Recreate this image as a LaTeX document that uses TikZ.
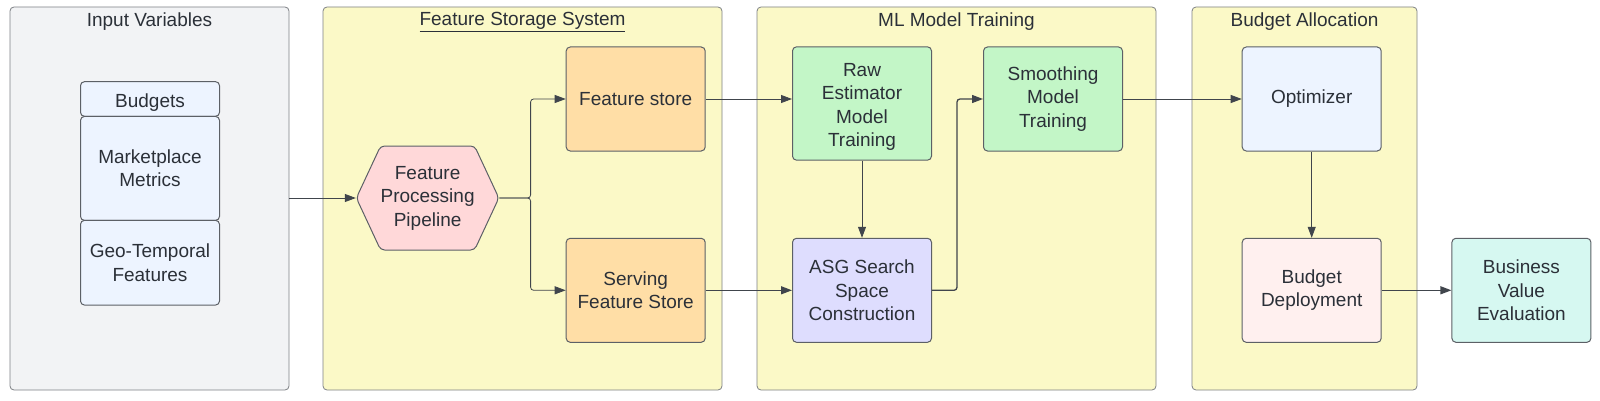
\documentclass[tikz,border=0pt]{standalone}
\usepackage{fontspec}
\setmainfont{Liberation Sans}
\usetikzlibrary{arrows.meta,shapes.symbols}

\definecolor{txt}{HTML}{2B3038}
\definecolor{edge}{HTML}{5C6066}
\definecolor{greyfill}{HTML}{F2F3F5}
\definecolor{yellowfill}{HTML}{FBF9C7}
\definecolor{bluefill}{HTML}{EDF4FF}
\definecolor{pinkfill}{HTML}{FFD8D9}
\definecolor{orangefill}{HTML}{FFDEA6}
\definecolor{greenfill}{HTML}{C3F6C7}
\definecolor{purplefill}{HTML}{DEDDFE}
\definecolor{rosefill}{HTML}{FFF0EF}
\definecolor{tealfill}{HTML}{D6F8F1}

\tikzset{
  panel/.style={draw=edge!80, line width=0.8pt, rounded corners=4pt, minimum width=#1, minimum height=383pt, inner sep=0pt},
  box/.style={draw=edge, line width=1pt, rounded corners=4pt, text=txt, align=center, minimum width=139pt, minimum height=104pt, inner sep=0pt},
  title/.style={text=txt},
  arr/.style={draw=txt!90, line width=0.8pt, -{Triangle[length=11pt,width=8pt]}},
  arrb/.style={arr, line width=1.3pt}
}

\begin{document}
\begin{tikzpicture}[x=1pt,y=-1pt,font=\fontsize{19}{23.5}\selectfont]
  \useasboundingbox (0,0) rectangle (1600,401);
  % panels
  \node[panel=279pt, fill=greyfill] (inp) at (149.5,198.5) {};
  \node[panel=399pt, fill=yellowfill] (fss) at (522.5,198.5) {};
  \node[panel=399pt, fill=yellowfill] (mlt) at (956.5,198.5) {};
  \node[panel=225pt, fill=yellowfill] (bal) at (1304.5,198.5) {};
  \node[title] (tinp) at (149.5,22) {Input Variables};
  \node[title] (tfss) at (522.5,22) {\underline{Feature Storage System}};
  \node[title] (tmlt) at (956.5,22) {ML Model Training};
  \node[title] (tbal) at (1304.5,22) {Budget Allocation};

  % inputs
  \node[box, fill=bluefill, minimum height=34.7pt] (bud) at (150,99) {\raisebox{-4pt}[\height][\depth]{Budgets}};
  \node[box, fill=bluefill] (mkt) at (150,168.4) {Marketplace\\Metrics};
  \node[box, fill=bluefill, minimum height=84.7pt] (geo) at (150,262.7) {Geo-Temporal\\Features};

  % feature storage
  \node[box, fill=pinkfill, signal, signal to=west and east, signal pointer angle=130] (fpp) at (427.6,198) {Feature\\Processing\\Pipeline};
  \node[box, fill=orangefill] (fst) at (635.7,99) {Feature store};
  \node[box, fill=orangefill] (sfs) at (635.7,290.3) {Serving\\Feature Store};

  % model training
  \node[box, fill=greenfill, minimum height=113.3pt] (raw) at (862,103.5)
    {\raisebox{-3.5pt}[\height][\depth]{\begin{tabular}{@{}c@{}}Raw\\Estimator\\Model\\Training\end{tabular}}};
  \node[box, fill=purplefill] (asg) at (862,290.3) {ASG Search\\Space\\Construction};
  \node[box, fill=greenfill] (smo) at (1053,99) {Smoothing\\Model\\Training};

  % allocation
  \node[box, fill=bluefill] (opt) at (1311.7,99) {Optimizer};
  \node[box, fill=rosefill] (dep) at (1311.7,290.3) {Budget\\Deployment};
  \node[box, fill=tealfill] (bve) at (1521.4,290.3) {Business\\Value\\Evaluation};

  % connectors
  \draw[arr] (inp.east |- fpp.west) -- (fpp.west);
  \draw[arr, rounded corners=3pt] (fpp.east) -| (530.6,99) -- (fst.west);
  \draw[arr, rounded corners=3pt] (fpp.east) -| (530.6,290.3) -- (sfs.west);
  \draw[arr] (fst.east) -- (raw.west |- fst.east);
  \draw[arrb] (sfs.east) -- (asg.west);
  \draw[arr] (raw.south) -- (asg.north);
  \draw[arrb, rounded corners=3pt] (asg.east) -| (957,99) -- (smo.west);
  \draw[arr] (smo.east) -- (opt.west);
  \draw[arr] (opt.south) -- (dep.north);
  \draw[arrb] (dep.east) -- (bve.west);
\end{tikzpicture}
\end{document}
